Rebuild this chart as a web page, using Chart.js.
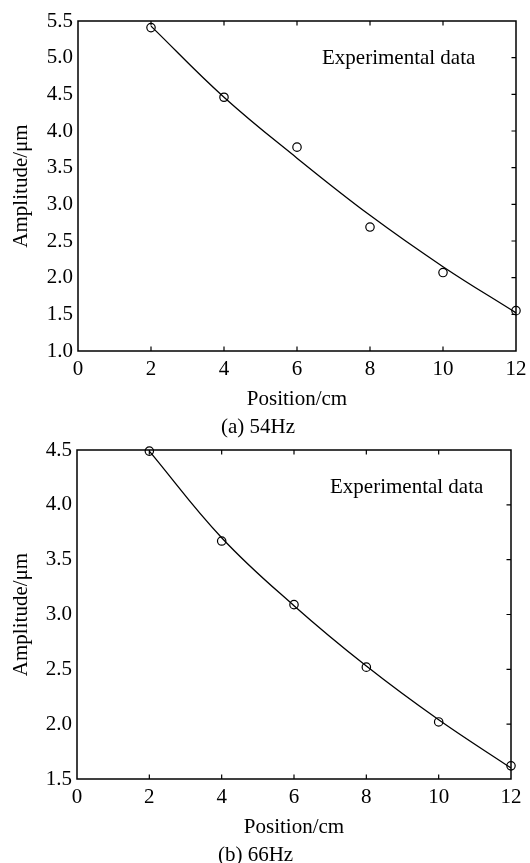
<!DOCTYPE html>
<html>
<head>
<meta charset="utf-8">
<script src="https://cdn.jsdelivr.net/npm/chart.js@4.4.1/dist/chart.umd.min.js"></script>
<style>
  html, body { margin: 0; padding: 0; background: #fff; overflow: hidden; width: 530px; height: 863px; }
  canvas { position: absolute; left: 0; }
  #c1 { top: 0; }
  #c2 { top: 440px; }
</style>
</head>
<body>
<canvas id="c1" width="530" height="440"></canvas>
<canvas id="c2" width="530" height="428"></canvas>
<script>
// ---- data ----
const positions = [2, 4, 6, 8, 10, 12];
const xTicks = [0, 2, 4, 6, 8, 10, 12];

// (a) 54Hz
const measuredA = [5.41, 4.46, 3.78, 2.69, 2.07, 1.55];
const fittedA   = [5.43, 4.46, 3.63, 2.85, 2.15, 1.52];
const yTicksA = [1.0, 1.5, 2.0, 2.5, 3.0, 3.5, 4.0, 4.5, 5.0, 5.5];

// (b) 66Hz
const measuredB = [4.49, 3.67, 3.09, 2.52, 2.02, 1.62];
const fittedB   = [4.49, 3.70, 3.08, 2.53, 2.04, 1.60];
const yTicksB = [1.5, 2.0, 2.5, 3.0, 3.5, 4.0, 4.5];

const xTitle = 'Position/cm';
const yTitle = 'Amplitude/\u03bcm';
const seriesLabel = 'Experimental data';
const captionA = '(a) 54Hz';
const captionB = '(b) 66Hz';

// ---- styling ----
const FONT = "'Liberation Serif', 'Times New Roman', serif";
const FS = 21;

const boxPlugin = {
  id: 'boxTicks',
  afterDatasetsDraw(chart, args, opts) {
    const {ctx, chartArea: a, scales} = chart;
    ctx.save();
    ctx.strokeStyle = '#000';
    ctx.lineWidth = 1.5;
    ctx.strokeRect(a.left, a.top, a.right - a.left, a.bottom - a.top);
    const L = 4.5;
    ctx.lineWidth = 1.2;
    ctx.beginPath();
    scales.x.ticks.forEach(t => {
      if (t.value <= scales.x.min || t.value >= scales.x.max) return;
      const px = scales.x.getPixelForValue(t.value);
      ctx.moveTo(px, a.bottom); ctx.lineTo(px, a.bottom - L);
      ctx.moveTo(px, a.top); ctx.lineTo(px, a.top + L);
    });
    scales.y.ticks.forEach(t => {
      if (t.value <= scales.y.min || t.value >= scales.y.max) return;
      const py = scales.y.getPixelForValue(t.value);
      ctx.moveTo(a.right, py); ctx.lineTo(a.right - L, py);
    });
    ctx.stroke();
    // text label
    ctx.fillStyle = '#000';
    ctx.font = FS + 'px ' + FONT;
    ctx.textBaseline = 'middle';
    ctx.textAlign = 'left';
    ctx.fillText(opts.text, a.left + opts.dx, a.top + opts.dy);
    ctx.restore();
  }
};

function makeChart(id, measured, fitted, yTicks, caption, cfg) {
  const yMin = yTicks[0], yMax = yTicks[yTicks.length - 1];
  return new Chart(document.getElementById(id), {
    type: 'scatter',
    data: {
      datasets: [
        {
          type: 'line',
          data: positions.map((x, i) => ({x: x, y: fitted[i]})),
          borderColor: '#000',
          borderWidth: 1.3,
          pointRadius: 0,
          tension: 0.4,
          fill: false
        },
        {
          data: positions.map((x, i) => ({x: x, y: measured[i]})),
          pointStyle: 'circle',
          pointRadius: 4.2,
          borderColor: '#000',
          borderWidth: 1.2,
          backgroundColor: 'rgba(0,0,0,0)',
          clip: false
        }
      ]
    },
    options: {
      responsive: false,
      animation: false,
      devicePixelRatio: 1,
      layout: { padding: { top: cfg.top, right: cfg.right, left: 0, bottom: 0 } },
      plugins: {
        legend: { display: false },
        tooltip: { enabled: false },
        title: {
          display: true,
          position: 'bottom',
          text: caption,
          color: '#000',
          font: { family: FONT, size: FS, weight: 'normal', lineHeight: 1.2 },
          padding: { top: 0, bottom: 0 }
        },
        boxTicks: { text: seriesLabel, dx: cfg.dx, dy: cfg.dy }
      },
      scales: {
        x: {
          type: 'linear',
          min: 0, max: 12,
          afterBuildTicks: s => { s.ticks = xTicks.map(v => ({value: v})); },
          ticks: {
            color: '#000',
            font: { family: FONT, size: FS, lineHeight: 1.0 },
            padding: 8,
            maxRotation: 0,
            autoSkip: false
          },
          grid: { display: false, drawTicks: false },
          border: { display: false },
          title: {
            display: true, text: xTitle, color: '#000',
            font: { family: FONT, size: FS, lineHeight: 1.2 },
            padding: { top: 0, bottom: 3.2 }
          },
          afterFit: s => { s.height = 63.8; s.paddingLeft = 0; s.paddingRight = 0; }
        },
        y: {
          type: 'linear',
          min: yMin, max: yMax,
          afterBuildTicks: s => { s.ticks = yTicks.map(v => ({value: v})); },
          ticks: {
            color: '#000',
            font: { family: FONT, size: FS, lineHeight: 1.0 },
            padding: 5,
            callback: v => Number(v).toFixed(1)
          },
          grid: { display: false, drawTicks: false },
          border: { display: false },
          title: {
            display: true, text: yTitle, color: '#000',
            font: { family: FONT, size: FS, lineHeight: 1.2 },
            padding: { top: 9, bottom: 0 }
          },
          afterFit: s => { s.width = cfg.left; s.paddingTop = 0; s.paddingBottom = 0; }
        }
      }
    },
    plugins: [boxPlugin]
  });
}

makeChart('c1', measuredA, fittedA, yTicksA, captionA, { top: 21, right: 14, left: 78, dx: 244, dy: 37 });
makeChart('c2', measuredB, fittedB, yTicksB, captionB, { top: 10, right: 19, left: 77, dx: 253, dy: 37 });
</script>
</body>
</html>
